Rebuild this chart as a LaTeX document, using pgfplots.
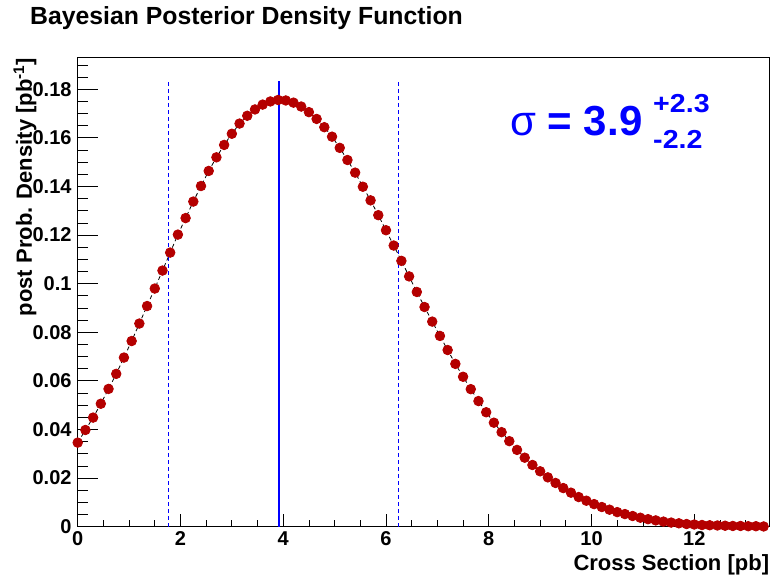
\documentclass[border=0pt]{standalone}
\usepackage{fontspec}
\setmainfont{Liberation Sans}
\usepackage{graphicx}
\usepackage{pgfplots}
\pgfplotsset{compat=1.18}
\definecolor{rootred}{RGB}{180,0,0}

\pgfplotsset{
  rootframe/.style={
    at={(77.7pt,52.3pt)}, anchor=south west, scale only axis,
    width=691.6pt, height=469pt,
    xmin=0, xmax=13.46, ymin=0, ymax=0.193,
    axis line style={line width=1pt, black},
    tick align=inside, xtick pos=bottom, ytick pos=left,
    tick style={black, line width=0.8pt},
    tick label style={font=\fontsize{20}{24}\selectfont\bfseries, inner sep=0pt},
  }
}

\begin{document}
\begin{tikzpicture}
\useasboundingbox (0,0) rectangle (772pt,579pt);

% y ticks are longer than x ticks, so they live in an overlaid axis
\begin{axis}[rootframe,
  xtick=\empty,
  ytick={0,0.02,0.04,0.06,0.08,0.1,0.12,0.14,0.16,0.18},
  yticklabels={0,0.02,0.04,0.06,0.08,0.1,0.12,0.14,0.16,0.18},
  minor ytick={0.005,0.01,0.015,0.025,0.03,0.035,0.045,0.05,0.055,0.065,0.07,0.075,0.085,0.09,0.095,0.105,0.11,0.115,0.125,0.13,0.135,0.145,0.15,0.155,0.165,0.17,0.175,0.185,0.19},
  major tick length=20pt, minor tick length=10pt,
  yticklabel style={xshift=-6pt},
]
\end{axis}

\begin{axis}[rootframe,
  ytick=\empty,
  xtick={0,2,4,6,8,10,12},
  xticklabels={0,2,4,6,8,10,12},
  minor xtick={0.5,1,1.5,2.5,3,3.5,4.5,5,5.5,6.5,7,7.5,8.5,9,9.5,10.5,11,11.5,12.5,13},
  major tick length=13pt, minor tick length=6.7pt,
  xticklabel style={yshift=-5pt},
  title={Bayesian Posterior Density Function},
  title style={at={(axis description cs:-0.069,1)}, anchor=base west, yshift=26.7pt,
    inner sep=0pt, font=\fontsize{24.8}{30}\selectfont\bfseries},
  xlabel={Cross Section [pb]},
  xlabel style={at={(axis description cs:1,0)}, anchor=base east, yshift=-43.3pt,
    inner sep=0pt, font=\fontsize{22}{26}\selectfont\bfseries},
  ylabel={post Prob. Density [pb\textsuperscript{-1}]},
  ylabel style={at={(axis description cs:-0.0762,1)}, anchor=east,
    inner sep=0pt, font=\fontsize{22}{26}\selectfont\bfseries},
]
\addplot[black, line width=0.8pt, dash pattern=on 4pt off 3pt,
  mark=*, mark size=4.8pt, mark options={solid, fill=rootred, draw=rootred}]
coordinates {
(0.00,0.0346) (0.15,0.0398) (0.30,0.0449) (0.45,0.0506) (0.60,0.0567)
(0.75,0.0629) (0.90,0.0696) (1.05,0.0764) (1.20,0.0836) (1.35,0.0908)
(1.50,0.0980) (1.65,0.1054) (1.80,0.1128) (1.95,0.1202) (2.10,0.1270)
(2.25,0.1338) (2.40,0.1402) (2.55,0.1464) (2.70,0.1520) (2.85,0.1571)
(3.00,0.1617) (3.15,0.1659) (3.30,0.1691) (3.45,0.1717) (3.60,0.1737)
(3.75,0.1750) (3.90,0.1756) (4.05,0.1754) (4.20,0.1745) (4.35,0.1729)
(4.50,0.1706) (4.65,0.1678) (4.80,0.1644) (4.95,0.1605) (5.10,0.1559)
(5.25,0.1509) (5.40,0.1457) (5.55,0.1399) (5.70,0.1343) (5.85,0.1282)
(6.00,0.1220) (6.15,0.1157) (6.30,0.1094) (6.45,0.1030) (6.60,0.0966)
(6.75,0.0904) (6.90,0.0844) (7.05,0.0785) (7.20,0.0727) (7.35,0.0670)
(7.50,0.0617) (7.65,0.0566) (7.80,0.0517) (7.95,0.0471) (8.10,0.0428)
(8.25,0.0389) (8.40,0.0352) (8.55,0.0316) (8.70,0.0284) (8.85,0.0254)
(9.00,0.0228) (9.15,0.0203) (9.30,0.0180) (9.45,0.0159) (9.60,0.0140)
(9.75,0.0122) (9.90,0.0107) (10.05,0.0093) (10.20,0.0081) (10.35,0.0070)
(10.50,0.0060) (10.65,0.0052) (10.80,0.0044) (10.95,0.0037) (11.10,0.0031)
(11.25,0.0026) (11.40,0.0021) (11.55,0.0017) (11.70,0.0014) (11.85,0.0011)
(12.00,0.0009) (12.15,0.0007) (12.30,0.0006) (12.45,0.0005) (12.60,0.0004)
(12.75,0.0003) (12.90,0.0003) (13.05,0.0002) (13.20,0.0002) (13.35,0.0001)
};
% credible interval and most probable value
\addplot[blue, line width=1pt, dash pattern=on 4pt off 3pt] coordinates {(1.763,0) (1.763,0.1833)};
\addplot[blue, line width=1pt, dash pattern=on 4pt off 3pt] coordinates {(6.253,0) (6.253,0.1833)};
\addplot[blue, line width=2.3pt] coordinates {(3.924,0) (3.924,0.1833)};

\node[anchor=base west, inner sep=0pt, text=blue, font=\fontsize{42}{48}\selectfont]
  at (axis cs:8.414,0.1611) {σ \textbf{= 3.9}};
\node[anchor=base west, inner sep=0pt, text=blue, font=\fontsize{26}{30}\selectfont\bfseries]
  at (axis cs:11.197,0.1703) {\scalebox{1.1}[1]{+2.3}};
\node[anchor=base west, inner sep=0pt, text=blue, font=\fontsize{26}{30}\selectfont\bfseries]
  at (axis cs:11.197,0.1556) {\scalebox{1.1}[1]{-2.2}};
\end{axis}
\end{tikzpicture}
\end{document}
